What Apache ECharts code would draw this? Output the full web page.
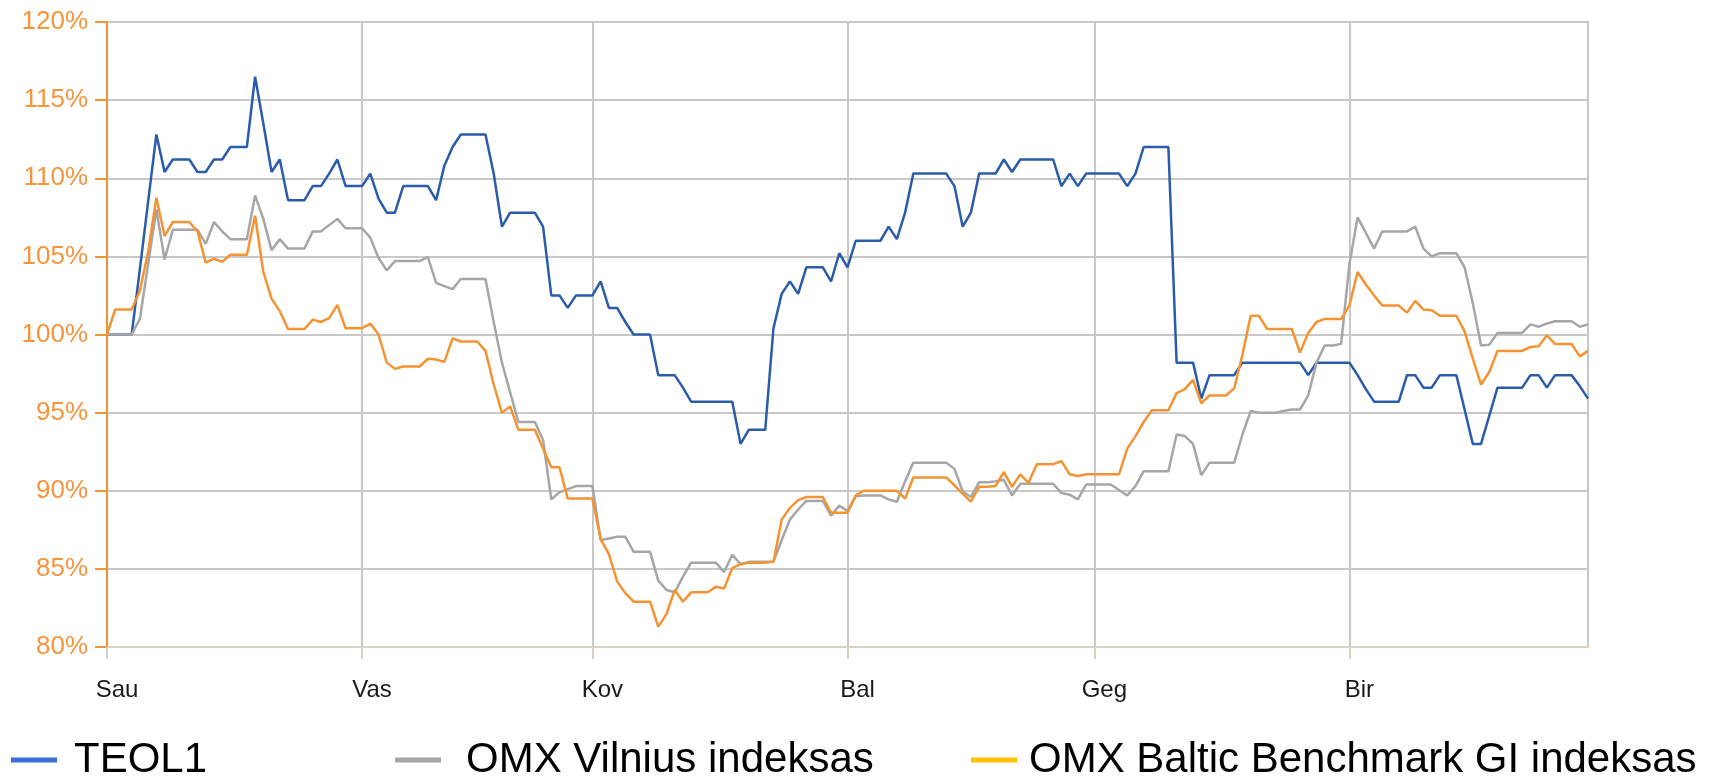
<!DOCTYPE html>
<html>
<head>
<meta charset="utf-8">
<script src="https://cdn.jsdelivr.net/npm/echarts@6/dist/echarts.min.js"></script>
<style>
  html, body { margin: 0; padding: 0; background: #fff; }
  #chart { width: 1721px; height: 777px; }
</style>
</head>
<body>
<div id="chart"></div>
<script>
// months on the x axis, one point per calendar day
var monthNames = ['Sau', 'Vas', 'Kov', 'Bal', 'Geg', 'Bir'];
var monthDays = [31, 28, 31, 30, 31, 30];

var seriesNames = ['TEOL1', 'OMX Vilnius indeksas', 'OMX Baltic Benchmark GI indeksas'];

// % of start value
var teol1 = [
  100, 100, 100, 100, 104.2, 108.5, 112.8, 110.4, 111.2, 111.2,
  111.2, 110.4, 110.4, 111.2, 111.2, 112.0, 112.0, 112.0, 116.5, 113.5,
  110.4, 111.2, 108.6, 108.6, 108.6, 109.5, 109.5, 110.3, 111.2, 109.5,
  109.5, 109.5, 110.3, 108.7, 107.8, 107.8, 109.5, 109.5, 109.5, 109.5,
  108.6, 110.8, 112.0, 112.8, 112.8, 112.8, 112.8, 110.3, 106.9, 107.8,
  107.8, 107.8, 107.8, 106.9, 102.5, 102.5, 101.7, 102.5, 102.5, 102.5,
  103.4, 101.7, 101.7, 100.8, 100.0, 100.0, 100.0, 97.4, 97.4, 97.4,
  96.6, 95.7, 95.7, 95.7, 95.7, 95.7, 95.7, 93.0, 93.9, 93.9,
  93.9, 100.4, 102.6, 103.4, 102.6, 104.3, 104.3, 104.3, 103.4, 105.2,
  104.3, 106.0, 106.0, 106.0, 106.0, 106.9, 106.1, 107.8, 110.3, 110.3,
  110.3, 110.3, 110.3, 109.5, 106.9, 107.8, 110.3, 110.3, 110.3, 111.2,
  110.4, 111.2, 111.2, 111.2, 111.2, 111.2, 109.5, 110.3, 109.5, 110.3,
  110.3, 110.3, 110.3, 110.3, 109.5, 110.3, 112.0, 112.0, 112.0, 112.0,
  98.2, 98.2, 98.2, 95.9, 97.4, 97.4, 97.4, 97.4, 98.2, 98.2,
  98.2, 98.2, 98.2, 98.2, 98.2, 98.2, 97.4, 98.2, 98.2, 98.2,
  98.2, 98.2, 97.4, 96.5, 95.7, 95.7, 95.7, 95.7, 97.4, 97.4,
  96.6, 96.6, 97.4, 97.4, 97.4, 95.2, 93.0, 93.0, 94.8, 96.6,
  96.6, 96.6, 96.6, 97.4, 97.4, 96.6, 97.4, 97.4, 97.4, 96.7,
  95.9
];

var omxVilnius = [
  100, 100, 100, 100, 101.0, 104.5, 108.0, 104.8, 106.7, 106.7,
  106.7, 106.7, 105.8, 107.2, 106.6, 106.1, 106.1, 106.1, 108.9, 107.4,
  105.4, 106.1, 105.5, 105.5, 105.5, 106.6, 106.6, 107.0, 107.4, 106.8,
  106.8, 106.8, 106.2, 104.9, 104.1, 104.7, 104.7, 104.7, 104.7, 104.95,
  103.3, 103.1, 102.9, 103.55, 103.55, 103.55, 103.55, 100.8, 98.2, 96.3,
  94.4, 94.4, 94.4, 93.25, 89.45, 89.9, 90.1, 90.3, 90.3, 90.3,
  86.85, 86.95, 87.05, 87.05, 86.1, 86.1, 86.1, 84.25, 83.65, 83.5,
  84.5, 85.4, 85.4, 85.4, 85.4, 84.8, 85.9, 85.3, 85.45, 85.45,
  85.45, 85.45, 86.85, 88.15, 88.8, 89.35, 89.35, 89.35, 88.4, 89.05,
  88.7, 89.65, 89.7, 89.7, 89.7, 89.45, 89.3, 90.6, 91.8, 91.8,
  91.8, 91.8, 91.8, 91.4, 89.95, 89.6, 90.55, 90.55, 90.6, 90.7,
  89.7, 90.45, 90.45, 90.45, 90.45, 90.45, 89.85, 89.75, 89.45, 90.4,
  90.4, 90.4, 90.4, 90.05, 89.7, 90.3, 91.25, 91.25, 91.25, 91.25,
  93.6, 93.5, 93.0, 91.0, 91.8, 91.8, 91.8, 91.8, 93.6, 95.1,
  95.0, 95.0, 95.0, 95.1, 95.2, 95.2, 96.1, 98.2, 99.3, 99.3,
  99.4, 104.5, 107.5, 106.5, 105.5, 106.6, 106.6, 106.6, 106.6, 106.9,
  105.5, 105.0, 105.2, 105.2, 105.2, 104.3, 102.0, 99.3, 99.35, 100.1,
  100.1, 100.1, 100.1, 100.65, 100.5, 100.7, 100.85, 100.85, 100.85, 100.5,
  100.65
];

var omxBaltic = [
  100, 101.6, 101.6, 101.6, 102.8, 105.3, 108.75, 106.3, 107.2, 107.2,
  107.2, 106.6, 104.6, 104.85, 104.65, 105.1, 105.1, 105.1, 107.6, 104.0,
  102.3, 101.5, 100.35, 100.35, 100.35, 100.95, 100.8, 101.05, 101.9, 100.4,
  100.4, 100.4, 100.7, 100.0, 98.2, 97.8, 97.95, 97.95, 97.95, 98.45,
  98.4, 98.25, 99.75, 99.55, 99.55, 99.55, 98.95, 96.8, 95.0, 95.4,
  93.9, 93.9, 93.9, 92.7, 91.5, 91.5, 89.5, 89.5, 89.5, 89.5,
  86.9, 85.95, 84.2, 83.45, 82.9, 82.9, 82.9, 81.3, 82.1, 83.65,
  82.9, 83.5, 83.5, 83.5, 83.85, 83.75, 85.05, 85.3, 85.4, 85.4,
  85.4, 85.45, 88.15, 88.9, 89.4, 89.6, 89.6, 89.6, 88.6, 88.6,
  88.6, 89.7, 90.0, 90.0, 90.0, 90.0, 90.0, 89.5, 90.85, 90.85,
  90.85, 90.85, 90.85, 90.35, 89.8, 89.3, 90.25, 90.25, 90.3, 91.2,
  90.25, 91.05, 90.5, 91.7, 91.7, 91.7, 91.9, 91.05, 90.95, 91.05,
  91.05, 91.05, 91.05, 91.05, 92.7, 93.5, 94.4, 95.15, 95.15, 95.15,
  96.25, 96.5, 97.1, 95.6, 96.1, 96.1, 96.1, 96.55, 98.7, 101.2,
  101.2, 100.35, 100.35, 100.35, 100.35, 98.85, 100.1, 100.8, 101.0, 101.0,
  101.0, 101.85, 104.0, 103.2, 102.5, 101.85, 101.85, 101.85, 101.4, 102.15,
  101.6, 101.55, 101.2, 101.2, 101.2, 100.2, 98.45, 96.8, 97.6, 98.95,
  98.95, 98.95, 98.95, 99.2, 99.25, 99.95, 99.4, 99.4, 99.4, 98.6,
  98.95
];

var lineColors = ['#2a5caa', '#a6a6a6', '#f59333'];
var legendColors = ['#3a6fd6', '#a6a6a6', '#ffc000'];
var legendLeft = [11, 395, 971];
var legendTextGap = [12, 20, 7];

var days = [];
for (var m = 0; m < monthNames.length; m++) {
    for (var d = 1; d <= monthDays[m]; d++) {
        days.push(monthNames[m] + ' ' + d);
    }
}

function isMonthStart(idx, val) {
    return / 1$/.test(val);
}

var myChart = echarts.init(document.getElementById('chart'));

var series = [teol1, omxVilnius, omxBaltic].map(function (vals, i) {
    return {
        name: seriesNames[i],
        type: 'line',
        data: vals,
        symbol: 'none',
        smooth: false,
        lineStyle: { color: lineColors[i], width: 2.5 },
        itemStyle: { color: lineColors[i] }
    };
});

var legends = seriesNames.map(function (n, i) {
    return {
        left: legendLeft[i],
        top: 739,
        padding: 0,
        icon: 'rect',
        itemWidth: 46,
        itemHeight: 5,
        data: [{ name: n, itemStyle: { color: legendColors[i] } }],
        textStyle: {
            fontFamily: 'Liberation Sans',
            fontSize: 42,
            lineHeight: 42,
            color: '#000',
            padding: [0, 0, 0, legendTextGap[i]]
        },
        selectedMode: false
    };
});

var option = {
    animation: false,
    backgroundColor: '#fff',
    grid: {
        left: 107, right: 133, top: 22, bottom: 130,
        show: true,
        borderColor: '#c8c8c8',
        borderWidth: 2
    },
    legend: legends,
    xAxis: {
        type: 'category',
        data: days,
        boundaryGap: false,
        axisLine: { lineStyle: { color: '#ddd2c2', width: 2 } },
        axisTick: { show: true, interval: isMonthStart, length: 12, lineStyle: { color: '#d8d0c4', width: 2 } },
        axisLabel: {
            interval: isMonthStart,
            formatter: function (v) { return v.split(' ')[0]; },
            fontFamily: 'Liberation Sans',
            fontSize: 24,
            color: '#1a1a1a',
            margin: 31,
            padding: [0, 0, 0, 20]
        },
        splitLine: { show: true, interval: isMonthStart, lineStyle: { color: '#c8c8c8', width: 2 } }
    },
    yAxis: {
        type: 'value',
        min: 80,
        max: 120,
        interval: 5,
        axisLine: { show: true, lineStyle: { color: '#f39332', width: 2 } },
        axisTick: { show: true, length: 12, lineStyle: { color: '#f39332', width: 2 } },
        axisLabel: {
            formatter: '{value}%',
            fontFamily: 'Liberation Sans',
            fontSize: 26,
            color: '#f7943c',
            margin: 19
        },
        splitLine: { lineStyle: { color: '#c8c8c8', width: 2 } }
    },
    series: series
};
myChart.setOption(option);
</script>
</body>
</html>
